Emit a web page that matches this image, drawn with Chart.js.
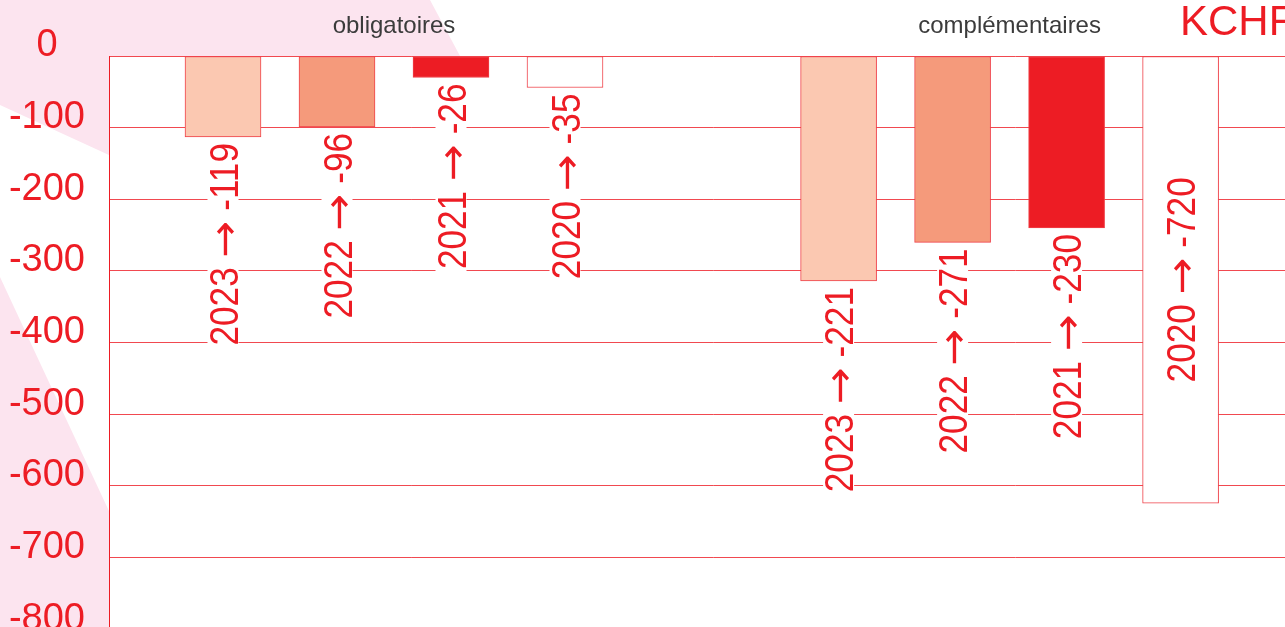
<!DOCTYPE html>
<html>
<head>
<meta charset="utf-8">
<title>KCHF</title>
<script src="https://cdn.jsdelivr.net/npm/chart.js@4/dist/chart.umd.min.js"></script>
<style>
  html, body { margin: 0; padding: 0; overflow: hidden; background: #fff; }
  .pink { position: absolute; left: 0; top: 0; width: 700px; height: 640px; background: #fce4ef; }
  #pinkTop { clip-path: polygon(0 0, 430px 0, 645px 401px, 0 105px); }
  #pinkBottom { clip-path: polygon(0 277px, 169px 640px, 0 640px); }
  #wrap { position: absolute; left: 0; top: 0; width: 1320px; height: 640px; }
</style>
</head>
<body>
<div class="pink" id="pinkTop"></div>
<div class="pink" id="pinkBottom"></div>
<div id="wrap"><canvas id="chart"></canvas></div>

<script>
// data
const groups = ["obligatoires", "complémentaires"];
const years = ["2023", "2022", "2021", "2020"];

// bar lengths as drawn
const obligatoiresValues = [-113, -99, -30, -44];
const complementairesValues = [-314, -260, -240, -624];

// numbers printed next to the bars
const obligatoiresLabels = [-119, -96, -26, -35];
const complementairesLabels = [-221, -271, -230, -720];

const yTicks = [0, -100, -200, -300, -400, -500, -600, -700, -800];

// styles
const RED = "#ed1c24";
const GRID = "rgba(237,28,36,0.8)";
const FONT = '"Liberation Sans", Arial, Helvetica, sans-serif';
const ARROW_FONT = '"DejaVu Sans", sans-serif';
const yearColors = ["#fbc8b1", "#f59a7b", "#ed1c24", "#ffffff"];

// category slots : bars sit every 5 slots, second group starts 27 slots later
const LEAD = 5, STEP = 5, GROUP_STRIDE = 27, SLOT_COUNT = 54;

const valueSets = [obligatoiresValues, complementairesValues];
const labelSets = [obligatoiresLabels, complementairesLabels];

const slotLabels = Array(SLOT_COUNT).fill("");
const slotValues = Array(SLOT_COUNT).fill(null);
const slotText = Array(SLOT_COUNT).fill(null);
const slotYear = Array(SLOT_COUNT).fill(0);
const groupSlots = [[], []];

valueSets.forEach((vals, g) => {
  vals.forEach((v, k) => {
    const i = LEAD + g * GROUP_STRIDE + k * STEP;
    slotLabels[i] = years[k];
    slotValues[i] = v;
    slotText[i] = [years[k] + " ", "\u2192", " " + labelSets[g][k]];
    slotYear[i] = k;
    groupSlots[g].push(i);
  });
});

// white plot background over the pink shapes
const whiteArea = {
  id: "whiteArea",
  beforeDraw(chart) {
    const a = chart.chartArea;
    chart.ctx.save();
    chart.ctx.fillStyle = "#fff";
    chart.ctx.fillRect(a.left, a.top, a.right - a.left, a.bottom - a.top);
    chart.ctx.restore();
  }
};

// rotated "year → value" labels
const barLabels = {
  id: "barLabels",
  afterDatasetsDraw(chart) {
    const ctx = chart.ctx;
    const area = chart.chartArea;
    const meta = chart.getDatasetMeta(0);
    const squeeze = 0.88;
    const capH = 29;
    const fonts = ["40px " + FONT, "40px " + ARROW_FONT, "40px " + FONT];
    const stretch = [1, 1.25, 1];   // the arrow is drawn a bit longer
    ctx.save();
    meta.data.forEach((bar, i) => {
      const parts = slotText[i];
      if (!parts) return;
      const widths = parts.map((p, j) => { ctx.font = fonts[j]; return ctx.measureText(p).width * stretch[j]; });
      const tw = widths.reduce((a, b) => a + b, 0);
      const inside = bar.y + 6 + tw * squeeze > area.bottom;
      const anchorY = inside ? (bar.y + bar.base) / 2 : bar.y + 6;
      let x = inside ? -tw / 2 : -tw;
      ctx.save();
      ctx.translate(bar.x, anchorY);
      ctx.rotate(-Math.PI / 2);
      ctx.scale(squeeze, 1);
      ctx.fillStyle = "#fff";
      ctx.fillRect(x - 3, -capH / 2 - 1, tw + 6, capH + 2);
      ctx.fillStyle = RED;
      ctx.textAlign = "left";
      ctx.textBaseline = "alphabetic";
      parts.forEach((p, j) => {
        ctx.font = fonts[j];
        ctx.save();
        ctx.translate(x, capH / 2);
        ctx.scale(stretch[j], 1);
        ctx.fillText(p, 0, 0);
        ctx.restore();
        x += widths[j];
      });
      ctx.restore();
    });
    ctx.restore();
  }
};

// group titles and unit
const headings = {
  id: "headings",
  afterDraw(chart) {
    const ctx = chart.ctx;
    const meta = chart.getDatasetMeta(0);
    ctx.save();
    ctx.textBaseline = "alphabetic";
    ctx.font = "24px " + FONT;
    ctx.fillStyle = "#3b3b3b";
    ctx.textAlign = "center";
    groups.forEach((name, g) => {
      const xs = groupSlots[g].map(i => meta.data[i].x);
      const cx = (Math.min(...xs) + Math.max(...xs)) / 2;
      ctx.fillText(name, cx, 33);
    });
    ctx.font = "42px " + FONT;
    ctx.fillStyle = RED;
    ctx.textAlign = "left";
    ctx.fillText("KCHF", 1180, 35);
    ctx.restore();
  }
};

new Chart(document.getElementById("chart"), {
  type: "bar",
  data: {
    labels: slotLabels,
    datasets: [{
      data: slotValues,
      backgroundColor: c => yearColors[slotYear[c.dataIndex]],
      borderColor: "#ef4048",
      borderWidth: 1,
      borderSkipped: false,
      barThickness: 76
    }]
  },
  options: {
    responsive: true,
    maintainAspectRatio: false,
    animation: false,
    layout: { padding: { top: 56, right: 2.6, bottom: 10.7, left: 0 } },
    plugins: {
      legend: { display: false },
      tooltip: { enabled: false },
      title: { display: false }
    },
    scales: {
      x: {
        type: "category",
        offset: false,
        display: false,
        grid: { display: false }
      },
      y: {
        min: -800,
        max: 0,
        afterBuildTicks: s => { s.ticks = yTicks.map(v => ({ value: v })); },
        afterFit: s => { s.width = 109; s.paddingTop = 0; s.paddingBottom = 0; },
        grid: { color: GRID, lineWidth: 1, drawTicks: false },
        border: { display: true, color: RED, width: 1 },
        ticks: {
          color: RED,
          font: { family: FONT, size: 38 },
          padding: 24,
          crossAlign: "center",
          labelOffset: -10,
          autoSkip: false
        }
      }
    }
  },
  plugins: [whiteArea, barLabels, headings]
});
</script>
</body>
</html>
